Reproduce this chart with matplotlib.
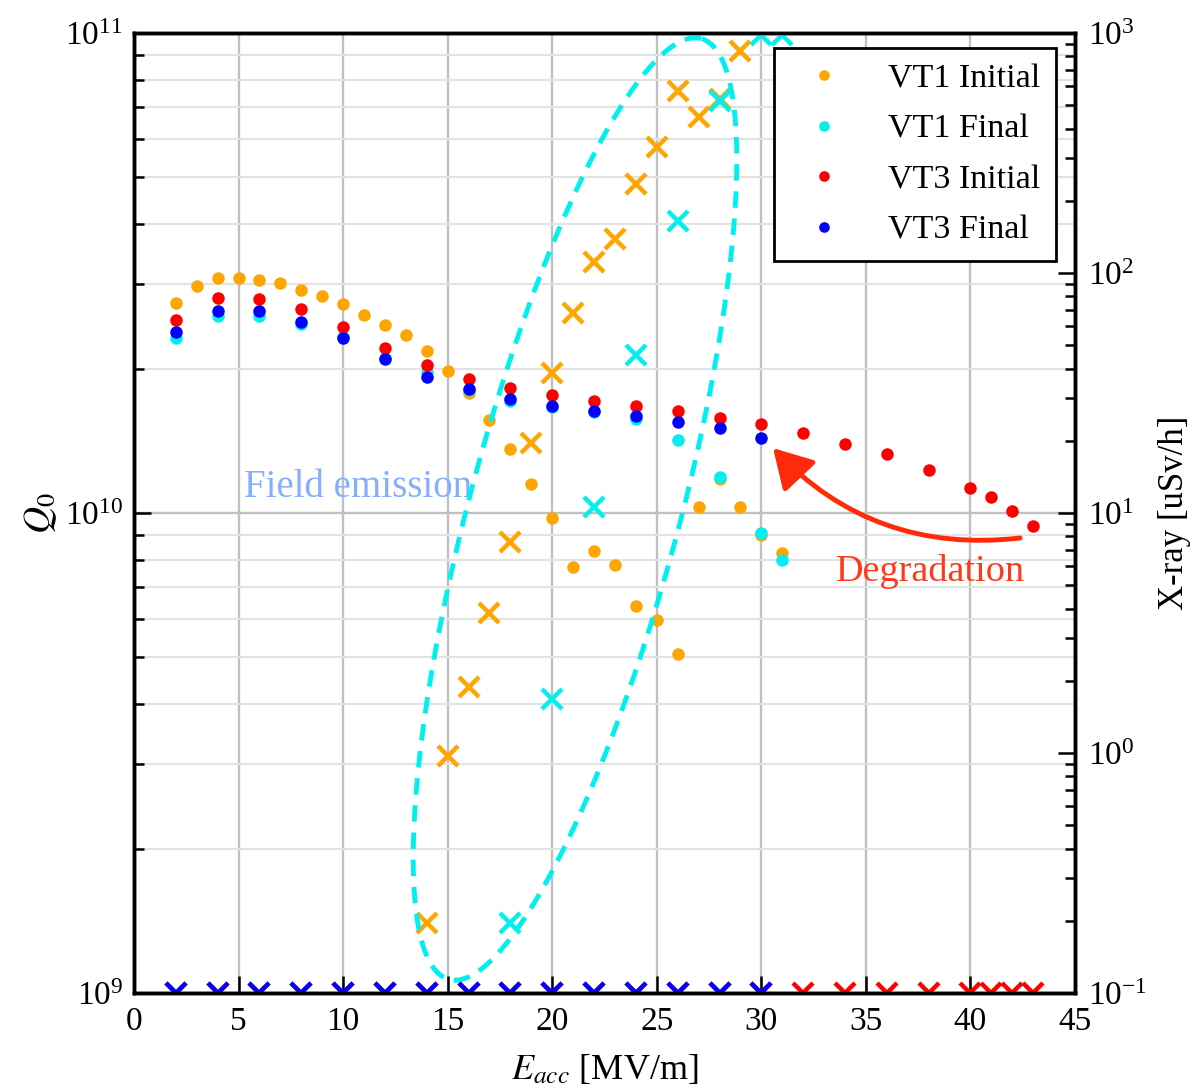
import numpy as np
import matplotlib.pyplot as plt
from matplotlib.ticker import MultipleLocator, NullLocator, NullFormatter, LogLocator

plt.rcParams['font.family'] = 'serif'
plt.rcParams['font.serif'] = ['Liberation Serif', 'DejaVu Serif']
plt.rcParams['mathtext.fontset'] = 'stix'

# Q0 vs Eacc
vt1_init_e = [2, 3, 4, 5, 6, 7, 8, 9, 10, 11, 12, 13, 14, 15, 16, 17, 18, 19, 20,
              21, 22, 23, 24, 25, 26, 27, 28, 29, 30, 31]
vt1_init_q = [2.74e10, 2.97e10, 3.08e10, 3.09e10, 3.06e10, 3.01e10, 2.92e10, 2.83e10,
              2.72e10, 2.58e10, 2.46e10, 2.35e10, 2.18e10, 1.98e10, 1.78e10, 1.56e10,
              1.36e10, 1.15e10, 9.75e9, 7.7e9, 8.35e9, 7.8e9, 6.4e9, 5.99e9, 5.09e9,
              1.03e10, 1.175e10, 1.03e10, 9.0e9, 8.27e9]

vt1_fin_e = [2, 4, 6, 8, 10, 12, 14, 16, 18, 20, 22, 24, 26, 28, 30, 31]
vt1_fin_q = [2.31e10, 2.57e10, 2.57e10, 2.48e10, 2.33e10, 2.10e10, 1.97e10, 1.80e10,
             1.71e10, 1.66e10, 1.62e10, 1.57e10, 1.42e10, 1.19e10, 9.07e9, 8.0e9]

vt3_init_e = [2, 4, 6, 8, 10, 12, 14, 16, 18, 20, 22, 24, 26, 28, 30,
              32, 34, 36, 38, 40, 41, 42, 43]
vt3_init_q = [2.52e10, 2.80e10, 2.79e10, 2.66e10, 2.44e10, 2.21e10, 2.03e10, 1.905e10,
              1.82e10, 1.76e10, 1.71e10, 1.67e10, 1.63e10, 1.58e10, 1.535e10,
              1.47e10, 1.39e10, 1.33e10, 1.23e10, 1.13e10, 1.08e10, 1.01e10, 9.41e9]

vt3_fin_e = [2, 4, 6, 8, 10, 12, 14, 16, 18, 20, 22, 24, 26, 28, 30]
vt3_fin_q = [2.38e10, 2.64e10, 2.63e10, 2.50e10, 2.32e10, 2.09e10, 1.92e10, 1.81e10,
             1.73e10, 1.67e10, 1.63e10, 1.59e10, 1.55e10, 1.50e10, 1.43e10]

# X-ray vs Eacc
vt1_init_xe = [14, 15, 16, 17, 18, 19, 20, 21, 22, 23, 24, 25, 26, 27, 28, 29]
vt1_init_x = [0.196, 0.97, 1.88, 3.84, 7.55, 19.6, 38.2, 67.9, 111, 138, 236, 334,
              575, 445, 530, 844]

vt1_fin_xe = [18, 20, 22, 24, 26, 28, 30, 31]
vt1_fin_x = [0.196, 1.68, 10.6, 45.5, 165, 521, 980, 980]

vt3_init_xe = vt3_init_e
vt3_init_x = [0.1, 0.1, 0.1, 0.1, 0.1, 0.1, 0.1, 0.1, 0.1, 0.1, 0.1, 0.1, 0.1, 0.1, 0.1,
              0.1, 0.1, 0.1, 0.1, 0.1, 0.1, 0.1, 0.1]

vt3_fin_xe = vt3_fin_e
vt3_fin_x = [0.1, 0.1, 0.1, 0.1, 0.1, 0.1, 0.1, 0.1, 0.1, 0.1, 0.1, 0.1, 0.1, 0.1, 0.1]

c_orange = '#FFA500'
c_cyan = '#00F0F0'
c_red = '#FF0000'
c_blue = '#0000FF'

W, H = 1196, 1089
fig = plt.figure(figsize=(W / 100, H / 100), dpi=100)
ax = fig.add_axes([134 / W, 1 - 993 / H, 941 / W, 960 / H])
ax2 = ax.twinx()

ms_dot = 9
ms_x = 14
mew_x = 3.2

ax.plot(vt1_init_e, vt1_init_q, 'o', color=c_orange, ms=ms_dot, mec='none', label='VT1 Initial')
ax.plot(vt1_fin_e, vt1_fin_q, 'o', color=c_cyan, ms=ms_dot, mec='none', label='VT1 Final')
ax.plot(vt3_init_e, vt3_init_q, 'o', color=c_red, ms=ms_dot, mec='none', label='VT3 Initial')
ax.plot(vt3_fin_e, vt3_fin_q, 'o', color=c_blue, ms=ms_dot, mec='none', label='VT3 Final')

ax2.plot(vt1_init_xe, vt1_init_x, 'x', color=c_orange, ms=ms_x, mew=mew_x)
ax2.plot(vt1_fin_xe, vt1_fin_x, 'x', color=c_cyan, ms=ms_x, mew=mew_x)
ax2.plot(vt3_init_xe, vt3_init_x, 'x', color=c_red, ms=ms_x, mew=mew_x)
ax2.plot(vt3_fin_xe, vt3_fin_x, 'x', color=c_blue, ms=ms_x, mew=mew_x)

ax.set_xlim(0, 45)
ax.set_yscale('log')
ax.set_ylim(1e9, 1e11)
ax2.set_yscale('log')
ax2.set_ylim(0.1, 1000)

ax.xaxis.set_major_locator(MultipleLocator(5))
ax.xaxis.set_minor_locator(NullLocator())
for a in (ax, ax2):
    a.yaxis.set_major_locator(LogLocator(base=10))
    a.yaxis.set_minor_locator(LogLocator(base=10, subs=np.arange(2, 10)))
    a.yaxis.set_minor_formatter(NullFormatter())
    for s in a.spines.values():
        s.set_linewidth(2.5)

ax.grid(which='major', axis='both', color='#c0c0c0', lw=1.7)
ax.grid(which='minor', axis='y', color='#e2e2e2', lw=1.5)
ax.set_axisbelow(True)

fs_tick = 24
ax.tick_params(axis='both', which='both', direction='in', top=False, right=False,
               labelsize=fs_tick, width=1.8, colors='black')
ax.tick_params(axis='x', which='major', length=12, pad=10, labelsize=fs_tick)
ax.tick_params(axis='y', which='major', length=12, pad=8, labelsize=fs_tick)
ax.tick_params(axis='y', which='minor', length=7)
ax2.tick_params(axis='y', which='both', direction='in', labelsize=fs_tick, width=1.8, pad=9)
ax2.tick_params(axis='y', which='major', length=12)
ax2.tick_params(axis='y', which='minor', length=7)

ax.set_xlabel('$E_{acc}$ [MV/m]', fontsize=26, labelpad=11)
ax.set_ylabel('$Q_0$', fontsize=27, labelpad=4)
ax2.set_ylabel('X-ray [uSv/h]', fontsize=25, labelpad=8)

# dashed ellipse around field emission region (pixel geometry of the axes box)
aw, ah = 941.0, 960.0
t = np.linspace(0, 2 * np.pi, 400)
th = np.deg2rad(75)
ea, eb = 487.0, 105.0
px = 441.0 + ea * np.cos(t) * np.cos(th) - eb * np.sin(t) * np.sin(th)
py = 484.0 + ea * np.cos(t) * np.sin(th) + eb * np.sin(t) * np.cos(th)
ax2.plot(px / aw, py / ah, transform=ax2.transAxes, color=c_cyan, lw=3.5,
         ls=(0, (3.4, 2.2)), zorder=3)

ax.text(10.7, 1.13e10, 'Field emission', color='#85AEFF', fontsize=28,
        ha='center', va='center')
ax.text(38.1, 7.54e9, 'Degradation', color='#FF3A1A', fontsize=27.5,
        ha='center', va='center')
ax.annotate('', xy=(30.56, 1.365e10), xytext=(42.37, 8.87e9),
            arrowprops=dict(arrowstyle='-|>,head_length=0.95,head_width=0.55',
                            color='#FF2A0A', lw=3.5, mutation_scale=25,
                            connectionstyle='arc3,rad=-0.25',
                            shrinkA=0, shrinkB=0))

h, l = ax.get_legend_handles_labels()
leg = ax2.legend(h, l, loc='upper right', bbox_to_anchor=(0.9798, 0.9844),
                 borderaxespad=0, fontsize=24.5, markerscale=0.85,
                 handletextpad=0.9, labelspacing=0.58, borderpad=0.45,
                 fancybox=False, framealpha=1, edgecolor='black')
leg.get_frame().set_linewidth(2)

fig.savefig('out.png', dpi=100)
